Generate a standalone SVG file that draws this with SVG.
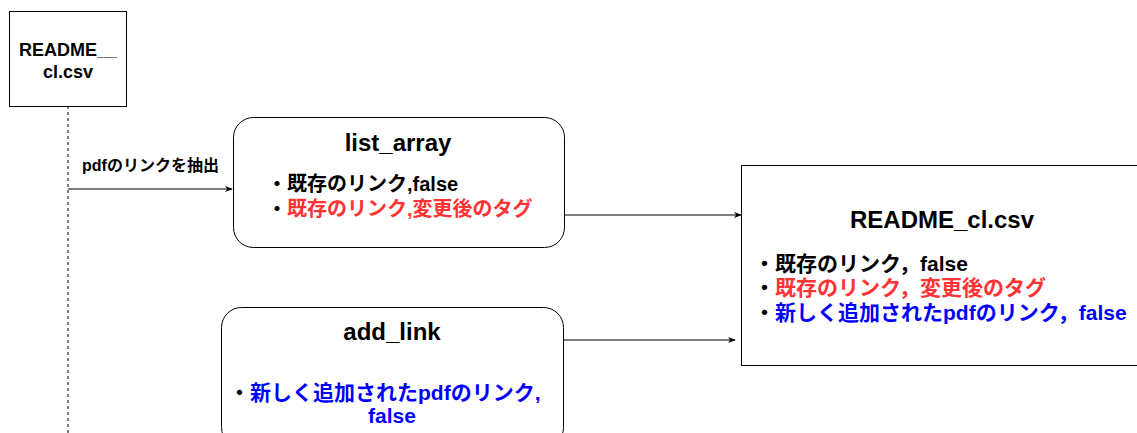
<svg xmlns="http://www.w3.org/2000/svg" width="1137" height="433" viewBox="0 0 1137 433">
  <style>
    .box { fill: #ffffff; stroke: #000000; stroke-width: 1; }
    .edge { fill: none; stroke: #000000; stroke-width: 1; }
    .dash { stroke-dasharray: 3 3; }
    text { font-family: "Liberation Sans", "Noto Sans CJK JP", sans-serif; font-weight: bold; fill: #000000; }
    .title { font-size: 24px; text-anchor: middle; }
    .item { font-size: 21px; }
    .item-s { font-size: 20px; }
    .red { fill: #FF3333; }
    .blue { fill: #0000FF; }
  </style>
  <defs>
    <marker id="arrow" viewBox="0 0 10 10" refX="9" refY="5" markerWidth="8" markerHeight="8" markerUnits="userSpaceOnUse" orient="auto">
      <path d="M0,1 L10,5 L0,9 L3,5 Z" fill="#000000"/>
    </marker>
  </defs>
  <rect width="1137" height="433" fill="#ffffff"/>

  <g id="connectors">
    <line class="edge dash" x1="68" y1="106" x2="68" y2="433"/>
    <path class="edge" d="M68,189 H232" marker-end="url(#arrow)"/>
    <text x="82" y="171" font-size="16">pdfのリンクを抽出</text>
    <path class="edge" d="M564,215 H741" marker-end="url(#arrow)"/>
    <path class="edge" d="M564,340 H735" marker-end="url(#arrow)"/>
  </g>

  <g id="readme-source">
    <rect class="box" x="9.5" y="11.5" width="117" height="95"/>
    <text x="68" y="56" font-size="18" text-anchor="middle">README__</text>
    <text x="68" y="78" font-size="18" text-anchor="middle">cl.csv</text>
  </g>

  <g id="list-array">
    <rect class="box" x="233.5" y="117.5" width="331" height="130" rx="20" ry="20"/>
    <text class="title" x="398" y="151">list_array</text>
    <text class="item-s" x="267" y="191">・既存のリンク,false</text>
    <text class="item-s" x="267" y="216">・<tspan class="red">既存のリンク,変更後のタグ</tspan></text>
  </g>

  <g id="add-link">
    <rect class="box" x="221.5" y="307.5" width="342" height="140" rx="20" ry="20"/>
    <text class="title" x="392" y="340">add_link</text>
    <text class="item" x="229" y="400">・<tspan class="blue">新しく追加されたpdfのリンク,</tspan></text>
    <text class="item blue" x="392" y="423" text-anchor="middle">false</text>
  </g>

  <g id="readme-result">
    <rect class="box" x="741.5" y="165.5" width="402" height="200"/>
    <text class="title" x="942" y="228">README_cl.csv</text>
    <text class="item" x="754" y="271">・既存のリンク，false</text>
    <text class="item" x="754" y="295">・<tspan class="red">既存のリンク，変更後のタグ</tspan></text>
    <text class="item" x="754" y="320">・<tspan class="blue">新しく追加されたpdfのリンク，false</tspan></text>
  </g>
</svg>
